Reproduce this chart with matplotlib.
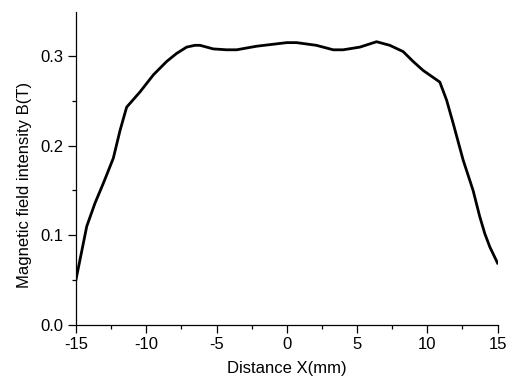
import matplotlib
matplotlib.use('Agg')
import matplotlib.pyplot as plt
from matplotlib.ticker import MultipleLocator

plt.rcParams['font.family'] = ['Liberation Sans', 'DejaVu Sans']
plt.rcParams['axes.unicode_minus'] = False

# Valeurs
distance = [-15.0, -14.24, -13.65, -13.06, -12.35, -11.87, -11.4, -10.45, -9.5, -8.55,
            -7.84, -7.13, -6.54, -6.18, -5.24, -4.28, -3.57, -2.15, 0.0, 0.69,
            2.1, 3.3, 4.01, 5.2, 6.39, 7.33, 8.28, 8.99, 9.7, 10.89,
            11.37, 11.84, 12.55, 13.26, 13.73, 14.09, 14.45, 15.0]
champ = [0.051, 0.110, 0.136, 0.158, 0.186, 0.217, 0.243, 0.260, 0.279, 0.294,
         0.303, 0.310, 0.312, 0.312, 0.308, 0.307, 0.307, 0.311, 0.315, 0.315,
         0.312, 0.307, 0.307, 0.310, 0.316, 0.312, 0.305, 0.294, 0.284, 0.271,
         0.251, 0.225, 0.184, 0.150, 0.121, 0.102, 0.087, 0.069]

fig = plt.figure(figsize=(5.14, 3.80), dpi=100)
ax = fig.add_axes([0.148, 0.145, 0.82, 0.823])
ax.plot(distance, champ, color='black', linewidth=2.0, solid_joinstyle='round')

ax.set_xlim(-15, 15)
ax.set_ylim(0, 0.349)
ax.xaxis.set_major_locator(MultipleLocator(5))
ax.xaxis.set_minor_locator(MultipleLocator(2.5))
ax.yaxis.set_major_locator(MultipleLocator(0.1))
ax.yaxis.set_minor_locator(MultipleLocator(0.05))
ax.yaxis.set_major_formatter(plt.FormatStrFormatter('%.1f'))

ax.spines['top'].set_visible(False)
ax.spines['right'].set_visible(False)
for s in ['left', 'bottom']:
    ax.spines[s].set_linewidth(0.9)
ax.tick_params(which='major', direction='out', length=6, width=0.9, labelsize=12, pad=3)
ax.tick_params(which='minor', direction='out', length=3, width=0.9)

ax.set_xlabel('Distance X(mm)', fontsize=12, labelpad=6)
ax.set_ylabel('Magnetic field intensity B(T)', fontsize=12)
ax.yaxis.set_label_coords(-0.104, 0.447)

fig.savefig('out.png', dpi=100)
